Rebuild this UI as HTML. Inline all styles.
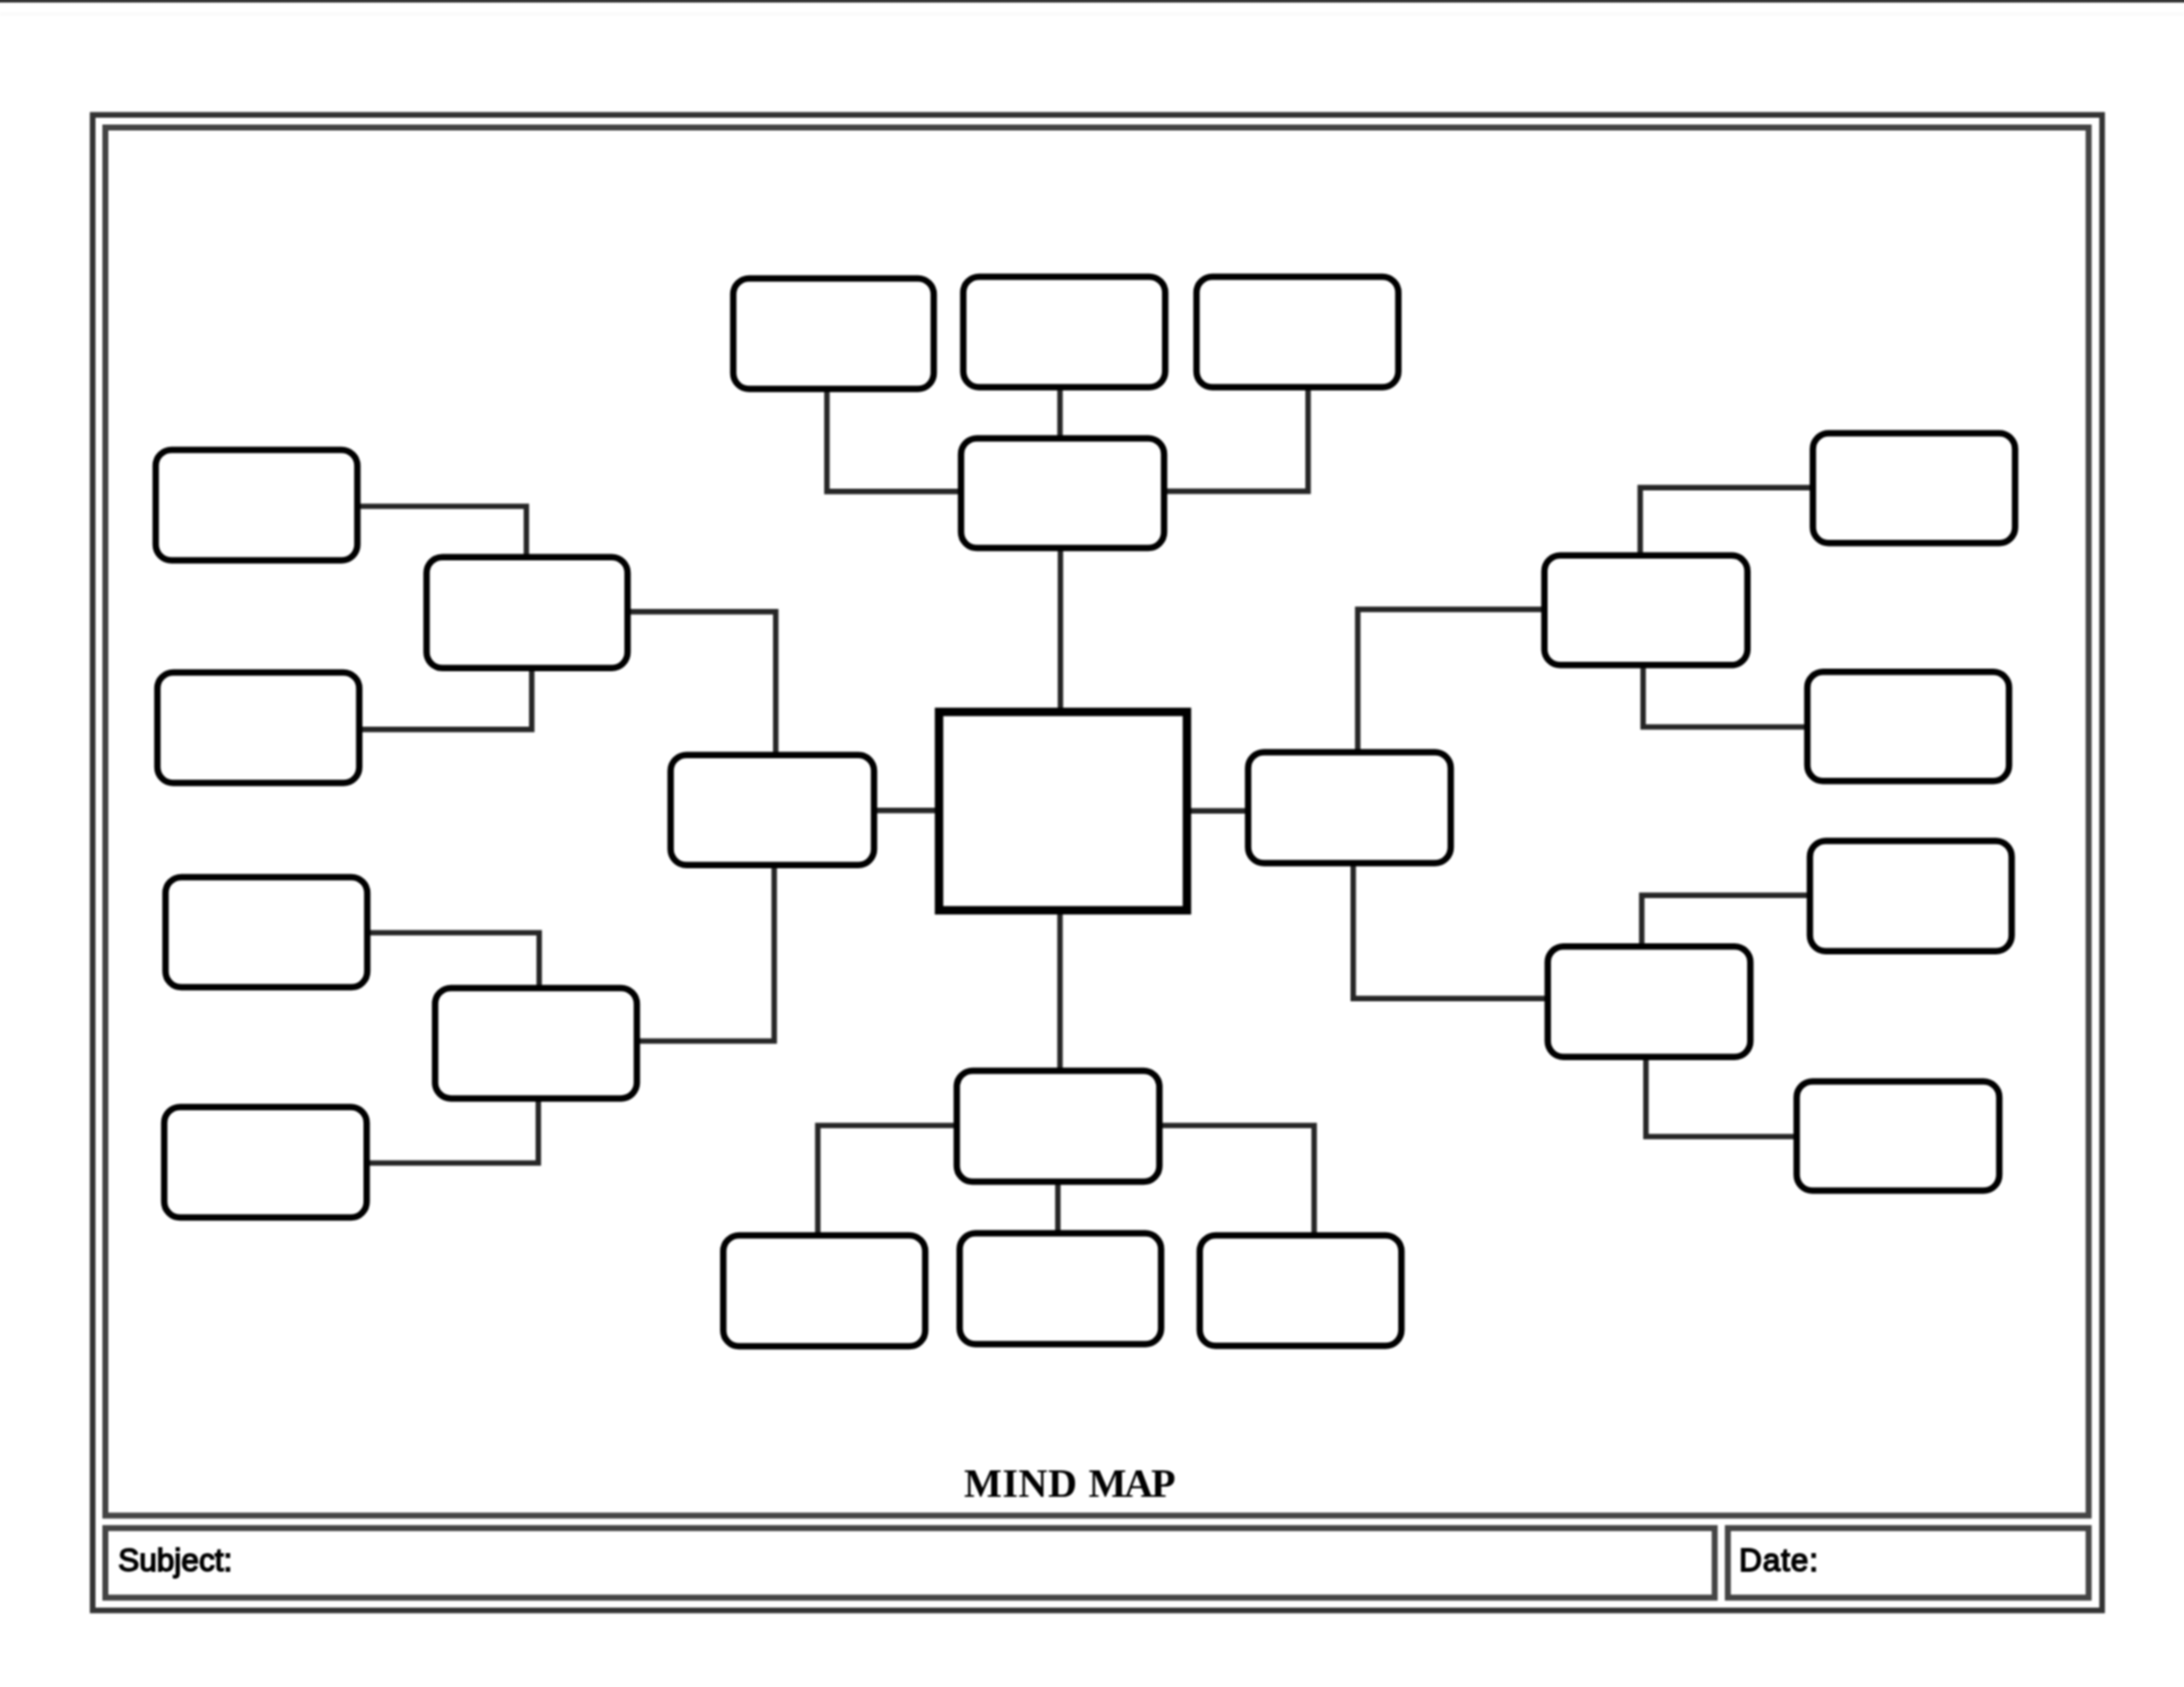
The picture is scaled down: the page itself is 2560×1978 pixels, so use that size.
<!DOCTYPE html>
<html lang="en"><head><meta charset="utf-8"><title>Mind Map</title>
<style>
html,body{margin:0;padding:0;background:#fff;}
body{width:2560px;height:1978px;overflow:hidden;position:relative;font-family:"Liberation Sans",sans-serif;}
svg{position:absolute;left:0;top:0;display:block;}
.t{position:absolute;white-space:nowrap;color:#000;line-height:1;transform:translateZ(0);}
.lab{font-size:37px;-webkit-text-stroke:1.8px #000;}
.title{font-family:"Liberation Serif",serif;font-weight:bold;}
#pg{position:absolute;left:0;top:0;width:2560px;height:1978px;filter:blur(1px);}
#topbar{position:absolute;left:0;top:0;width:2560px;height:5px;background:linear-gradient(to bottom,#333 0,#353535 1.2px,#6a6a6a 2.4px,#c8c8c8 3.6px,#fff 5px);}
</style></head><body><div id="pg">
<svg width="2560" height="1978" viewBox="0 0 2560 1978">
<rect x="0" y="14" width="2560" height="5" fill="#fbfbfb"/>
<g shape-rendering="auto">
<rect x="108.6" y="134.7" width="2355.4" height="1753.5" fill="none" stroke="#333" stroke-width="6.6"/>
<rect x="123.5" y="149.5" width="2324.7" height="1627.5" fill="none" stroke="#444" stroke-width="7"/>
<rect x="123.5" y="1791.7" width="1886.4" height="81.5" fill="none" stroke="#444" stroke-width="7"/>
<rect x="2025.3" y="1791.7" width="422.9" height="81.5" fill="none" stroke="#444" stroke-width="7"/>
</g>
<g fill="none" stroke="#262626" stroke-width="6.4" stroke-linejoin="miter" stroke-linecap="butt">
<polyline points="969.3,457 969.3,576.3 1125,576.3"/>
<polyline points="1242.5,455 1242.5,513"/>
<polyline points="1533.3,455 1533.3,576 1366,576"/>
<polyline points="1243,644 1243,832"/>
<polyline points="1242.5,1070 1242.5,1254"/>
<polyline points="1026,950.3 1098,950.3"/>
<polyline points="1394,950.7 1462,950.7"/>
<polyline points="737,717.2 909.3,717.2 909.3,884"/>
<polyline points="748,1220.6 907.5,1220.6 907.5,1016"/>
<polyline points="420,593.6 617,593.6 617,652"/>
<polyline points="422,855.2 623.3,855.2 623.3,785"/>
<polyline points="432,1093.6 632,1093.6 632,1157"/>
<polyline points="431,1363.6 631,1363.6 631,1289"/>
<polyline points="1120,1319.6 958.6,1319.6 958.6,1447"/>
<polyline points="1240,1387 1240,1445"/>
<polyline points="1360,1319.6 1540.4,1319.6 1540.4,1447"/>
<polyline points="1591.5,880.5 1591.5,714.5 1809,714.5"/>
<polyline points="1586.2,1013.5 1586.2,1170.8 1813,1170.8"/>
<polyline points="1922.6,650 1922.6,571.7 2123.5,571.7"/>
<polyline points="1926,781 1926,852.4 2117,852.4"/>
<polyline points="1924.4,1108.3 1924.4,1049.7 2120,1049.7"/>
<polyline points="1929.3,1240.7 1929.3,1332.6 2104.5,1332.6"/>
</g>
<g fill="#fff" stroke="#000" stroke-width="7.5">
<rect x="859.5" y="326.5" width="235" height="129.5" rx="18.5" ry="18.5"/>
<rect x="1129.1" y="324.5" width="236.7" height="129.5" rx="18.5" ry="18.5"/>
<rect x="1402.5" y="324.5" width="236.6" height="129.5" rx="18.5" ry="18.5"/>
<rect x="1126.5" y="514" width="238" height="128.5" rx="18.5" ry="18.5"/>
<rect x="182.5" y="527.5" width="236.4" height="129.5" rx="18.5" ry="18.5"/>
<rect x="500" y="653.2" width="235.6" height="130" rx="18.5" ry="18.5"/>
<rect x="184.5" y="788.5" width="236.6" height="129.5" rx="18.5" ry="18.5"/>
<rect x="786.1" y="885.2" width="238.4" height="129" rx="18.5" ry="18.5"/>
<rect x="194" y="1028.5" width="236.5" height="129" rx="18.5" ry="18.5"/>
<rect x="510" y="1158.5" width="236.5" height="129.4" rx="18.5" ry="18.5"/>
<rect x="192.5" y="1298" width="237.3" height="129.5" rx="18.5" ry="18.5"/>
<rect x="1121.5" y="1255.5" width="237.5" height="130" rx="18.5" ry="18.5"/>
<rect x="847.8" y="1448.5" width="236.7" height="130" rx="18.5" ry="18.5"/>
<rect x="1124.9" y="1446.1" width="236.1" height="130" rx="18.5" ry="18.5"/>
<rect x="1406.3" y="1448.5" width="236.4" height="129.5" rx="18.5" ry="18.5"/>
<rect x="1463" y="882" width="237.5" height="130" rx="18.5" ry="18.5"/>
<rect x="2125" y="508" width="237" height="128.7" rx="18.5" ry="18.5"/>
<rect x="1810.3" y="651.2" width="238" height="128.6" rx="18.5" ry="18.5"/>
<rect x="2118.5" y="787.8" width="236.4" height="128" rx="18.5" ry="18.5"/>
<rect x="2121.5" y="985.9" width="236.5" height="129.4" rx="18.5" ry="18.5"/>
<rect x="1814.2" y="1109.8" width="237.5" height="129.4" rx="18.5" ry="18.5"/>
<rect x="2106" y="1268" width="237.5" height="128.1" rx="18.5" ry="18.5"/>
</g>
<rect x="1100.7" y="834.7" width="290.6" height="232.6" fill="#fff" stroke="#000" stroke-width="9.9"/>
</svg>
<div class="t title" style="left:1130px;top:1716px;font-size:47px;"><span style="letter-spacing:0.6px;">MIND</span><span style="word-spacing:1.3px;"> </span><span style="letter-spacing:-2.5px;">MAP</span></div>
<div class="t lab" style="left:138.5px;top:1810.5px;">Subject:</div>
<div class="t lab" style="left:2038.5px;top:1810.5px;letter-spacing:1px;">Date:</div>
</div><div id="topbar"></div></body></html>
